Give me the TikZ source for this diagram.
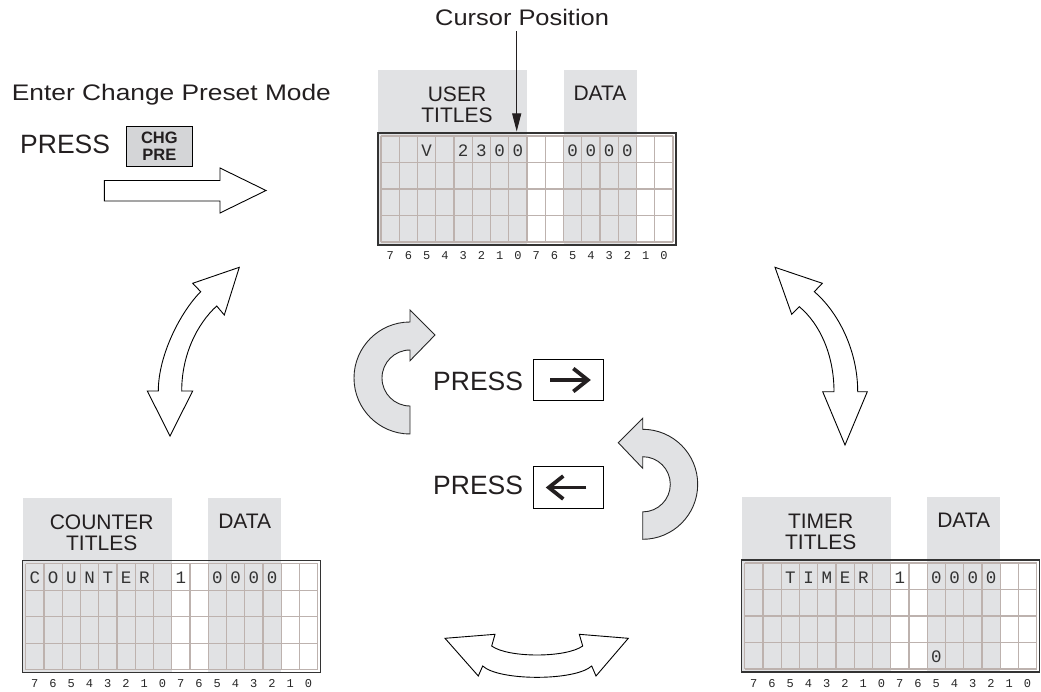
\documentclass[tikz,border=0pt]{standalone}
\usepackage{fontspec}
\setmainfont{Liberation Sans}
\newfontfamily\monofam{Liberation Mono}
\usetikzlibrary{arrows.meta}
\definecolor{hdrgray}{HTML}{E1E2E4}
\definecolor{gridc}{HTML}{BDB2AE}
\definecolor{keygray}{HTML}{D4D5D7}
\definecolor{ink}{HTML}{231F20}
\tikzset{
  celltxt/.style={font=\monofam\fontsize{17.5}{17.5}\selectfont, text=black!80, inner sep=0pt, anchor=base},
  bitlbl/.style={font=\monofam\fontsize{12}{12}\selectfont, text=black!85, inner sep=0pt, anchor=base},
  hdrlbl/.style={font=\fontsize{21}{21}\selectfont, text=ink, inner sep=0pt, align=center},
  presslbl/.style={font=\fontsize{26.5}{26.5}\selectfont, text=ink, inner sep=0pt, anchor=base west},
  toplbl/.style={font=\fontsize{22.5}{22.5}\selectfont, text=ink, inner sep=0pt, anchor=base west},
  outlinearrow/.style={draw=black, fill=white, line width=0.9pt, line join=miter},
  grayarrow/.style={draw=black!85, fill=hdrgray, line width=0.9pt, line join=miter},
  keybox/.style={draw=black, line width=0.9pt, inner sep=0pt},
  keyarrow/.style={line width=3.8pt, draw=ink, line cap=butt, line join=miter},
}
% #1 x, #2 y, #3 name, #4 title word, #5 cell texts c/r/t
\newcommand\lcdpanel[5]{%
\begin{scope}[shift={(#1,#2)}]
  \fill[hdrgray] (0,-63) rectangle (149,112);
  \fill[hdrgray] (185.5,-63) rectangle (258.5,112);
  \foreach \i in {0,...,16} \draw[gridc, line width=1.2pt] ({3+\i*18.25},3) -- ({3+\i*18.25},109);
  \foreach \j in {0,...,4} \draw[gridc, line width=1.2pt] (3,{3+\j*26.5}) -- (295,{3+\j*26.5});
  \draw[black!80, line width=1.1pt] (0,0) rectangle (298,112);
  \node[hdrlbl] (#3-title) at (79,-28) {#4\\TITLES};
  \node[hdrlbl] (#3-data) at (222,-39.5) {DATA};
  \foreach \i in {0,...,15} {
    \pgfmathtruncatemacro\bit{7-mod(\i,8)}
    \node[bitlbl] (#3-bit\i) at ({3+18.25*(\i+0.5)},127) {\bit};
  }
  \foreach \c/\r/\t in {#5}
    \node[celltxt] (#3-c\c-\r) at ({3+18.25*(\c+0.5)},{3+26.5*(\r+0.5)+6.8}) {\t};
\end{scope}}
\begin{document}
\begin{tikzpicture}[x=1pt,y=-1pt]
\useasboundingbox (0,0) rectangle (1041,692);

% panels
\lcdpanel{378}{133}{user}{USER}{2/0/V,4/0/2,5/0/3,6/0/0,7/0/0,10/0/0,11/0/0,12/0/0,13/0/0}
\lcdpanel{22.7}{560.7}{ctr}{COUNTER}{0/0/C,1/0/O,2/0/U,3/0/N,4/0/T,5/0/E,6/0/R,8/0/1,10/0/0,11/0/0,12/0/0,13/0/0}
\lcdpanel{741.7}{560}{tmr}{TIMER}{2/0/T,3/0/I,4/0/M,5/0/E,6/0/R,8/0/1,10/0/0,11/0/0,12/0/0,13/0/0,10/3/0}

% cursor position
\node[toplbl] (cursor) at (435,26) {\scalebox{1.13}[1]{Cursor Position}};
\coordinate (cursortip) at (516.7,131.5);
\draw[ink, line width=1pt, -{Triangle[length=18pt,width=9pt]}] (cursortip |- cursor.south) ++(0,5) -- (cursortip);

% enter change preset mode
\node[toplbl] (enter) at (11.7,100.7) {\scalebox{1.17}[1]{Enter Change Preset Mode}};
\node[presslbl] (press0) at (20,153.3) {PRESS};
\node[keybox, fill=keygray, minimum width=66.7pt, minimum height=40.7pt, align=center,
      font=\bfseries\fontsize{16.5}{17}\selectfont, text=ink] (chg) at (159.4,146.4) {CHG\\PRE};
\draw[outlinearrow] (104.3,180.5) -- (220,180.5) -- (220,168) -- (266,190.5) -- (220,213) -- (220,201) -- (104.3,201) -- cycle;

% press right / left
\node[presslbl] (press1) at (433,390) {PRESS};
\node[keybox, minimum width=70pt, minimum height=41.4pt] (rkey) at (568.3,380) {};
\draw[keyarrow] ([xshift=-18pt]rkey.center) -- ([xshift=18pt]rkey.center);
\draw[keyarrow] ([xshift=5pt,yshift=-11.5pt]rkey.center) -- ([xshift=19.5pt]rkey.center) -- ([xshift=5pt,yshift=11.5pt]rkey.center);
\node[presslbl] (press2) at (433,494.5) {PRESS};
\node[keybox, minimum width=70pt, minimum height=41.6pt] (lkey) at (568.3,487.5) {};
\draw[keyarrow] ([xshift=18pt]lkey.center) -- ([xshift=-18pt]lkey.center);
\draw[keyarrow] ([xshift=-5pt,yshift=-11.5pt]lkey.center) -- ([xshift=-19.5pt]lkey.center) -- ([xshift=-5pt,yshift=11.5pt]lkey.center);

% U-turn arrows
\draw[grayarrow] (410,322) arc[start angle=270, end angle=90, radius=56] -- (410,406)
   arc[start angle=90, end angle=270, radius=28] -- (410,360.7) -- (435,335) -- (410,310) -- cycle;
\draw[grayarrow] (642.7,429.3) arc[start angle=-90, end angle=90, radius=55] -- (642.7,511.9)
   arc[start angle=90, end angle=-90, radius=27.6] -- (642.7,468.3) -- (618.3,442.7) -- (642.7,418.3) -- cycle;

% double curved arrows
\draw[outlinearrow] (239.3,267.3) -- (192.7,283.3) -- (200.7,291.7)
   .. controls (180.7,311.7) and (158.3,355) .. (158.3,391) -- (147.3,391) -- (170,436) -- (192.7,391) -- (181.7,391)
   .. controls (181.7,355) and (197,324) .. (216.7,306) -- (224.3,315) -- cycle;
\draw[outlinearrow] (775,267.3) -- (822.3,283.3) -- (814.3,291.7)
   .. controls (838,312) and (857.7,350) .. (857.7,391.7) -- (867.3,391.7) -- (845,445) -- (822.7,391.7) -- (834,391.7)
   .. controls (834,355) and (820,324) .. (799.3,306.7) -- (791.7,314.3) -- cycle;
\draw[outlinearrow] (445,638.3) -- (495,634.3) -- (491.7,646)
   .. controls (508,658) and (566,658) .. (582.7,646) -- (579.3,634.3) -- (628.3,638.3) -- (596,676) -- (591.7,666)
   .. controls (575,681.1) and (499,681.1) .. (482.7,666) -- (478.3,676) -- cycle;
\end{tikzpicture}
\end{document}
